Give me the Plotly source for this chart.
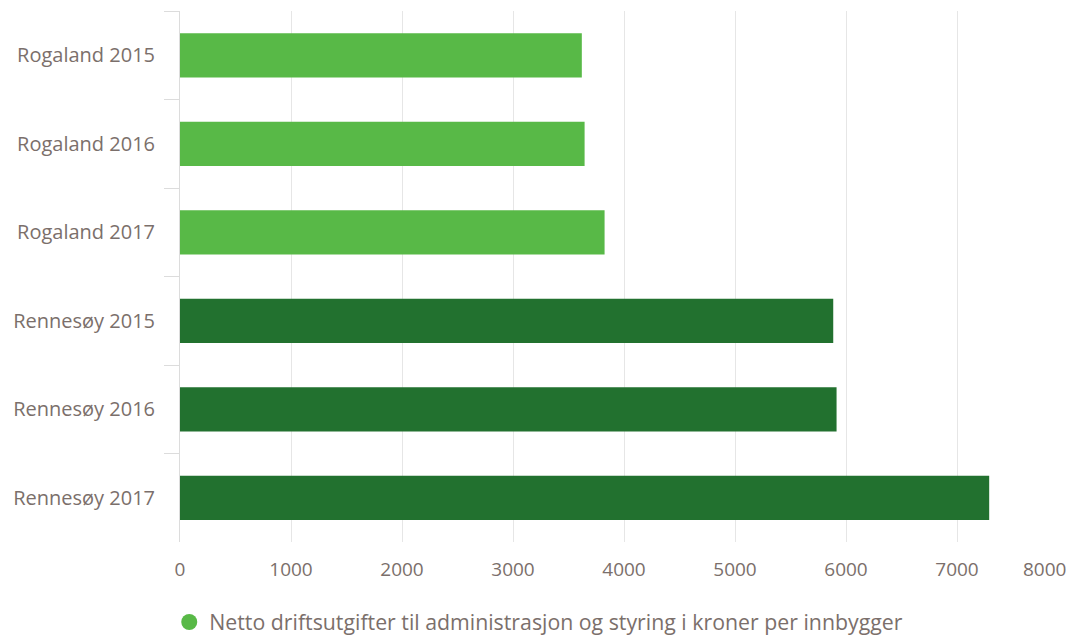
import plotly.graph_objects as go

categories = ["Rogaland 2015", "Rogaland 2016", "Rogaland 2017",
              "Rennesøy 2015", "Rennesøy 2016", "Rennesøy 2017"]
values = [3620, 3645, 3825, 5885, 5915, 7290]
bar_colors = ["#58b947", "#58b947", "#58b947", "#22712f", "#22712f", "#22712f"]
series_name = "Netto driftsutgifter til administrasjon og styring i kroner per innbygger"
tick_vals = [0, 1000, 2000, 3000, 4000, 5000, 6000, 7000, 8000]
tick_text = ["0", "1000", "2000", "3000", "4000", "5000", "6000", "7000", "8000"]

FONT = "Open Sans"
TXT = "#7b6f6b"

fig = go.Figure()
fig.add_trace(go.Bar(
    y=categories, x=values, orientation="h",
    marker=dict(color=bar_colors, line=dict(width=0)),
    showlegend=False, name=series_name,
))
fig.add_trace(go.Scatter(
    x=[None], y=[None], mode="markers", name=series_name,
    marker=dict(symbol="circle", size=20, color="#58b947"),
    showlegend=True,
))

# last tick label is right-aligned at its tick so it stays inside the chart
shown_text = tick_text[:-1] + [""]
fig.add_annotation(
    x=tick_vals[-1], xref="x", y=0, yref="paper",
    text=tick_text[-1], showarrow=False, xanchor="right", yanchor="middle",
    yshift=-27, font=dict(family=FONT, size=19, color=TXT),
)

# page body adds an 8px offset; figure size compensates so it fits the window
fig.update_layout(
    width=1066, height=631,
    margin=dict(l=172, r=6, t=3, b=97, autoexpand=False),
    paper_bgcolor="white", plot_bgcolor="white",
    bargap=0.5,
    font=dict(family=FONT, size=18, color=TXT),
    legend=dict(orientation="h", x=0.404, xanchor="center", y=-0.151,
                yanchor="middle", font=dict(family=FONT, size=21.3, color=TXT),
                itemclick=False),
    xaxis=dict(range=[0, 8000], tickmode="array", tickvals=tick_vals,
               ticktext=shown_text, showgrid=True, gridcolor="#e6e6e6",
               gridwidth=1, zeroline=False, showline=False,
               ticks="outside", ticklen=10, tickcolor="rgba(0,0,0,0)",
               tickfont=dict(family=FONT, size=19, color=TXT),
               automargin=False, fixedrange=True),
    yaxis=dict(autorange="reversed", type="category", showgrid=False,
               zeroline=False, showline=True, linecolor="#dcdcdc", linewidth=1,
               ticks="outside", tickson="boundaries", ticklen=15,
               tickcolor="#dcdcdc", tickwidth=1, ticklabelstandoff=20,
               tickfont=dict(family=FONT, size=20, color=TXT),
               automargin=False, fixedrange=True),
)

fig.write_html("out.html")
